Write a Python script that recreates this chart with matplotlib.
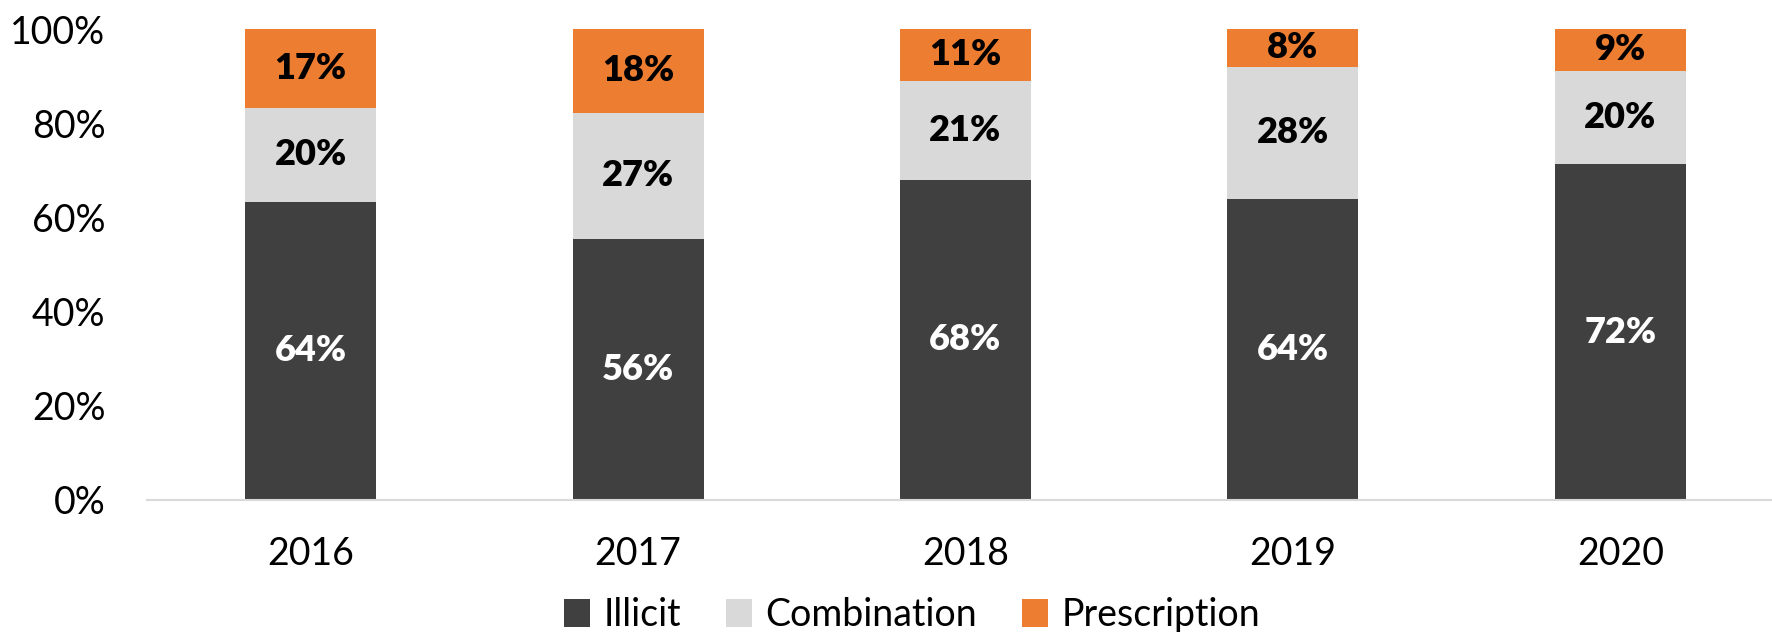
import matplotlib
matplotlib.use("Agg")
import matplotlib.pyplot as plt
import numpy as np

years = ["2016", "2017", "2018", "2019", "2020"]
illicit = [64, 56, 68, 64, 72]
combination = [20, 27, 21, 28, 20]
prescription = [17, 18, 11, 8, 9]

series_names = ["Illicit", "Combination", "Prescription"]
colors = ["#404040", "#D9D9D9", "#ED7D31"]
label_colors = ["white", "black", "black"]

plt.rcParams['font.family'] = ['Lato', 'DejaVu Sans']

fig = plt.figure(figsize=(17.72, 6.32), dpi=100)
ax = fig.add_axes([147/1772, 132/632, (1784-147)/1772, (500-29)/632])

data = np.array([illicit, combination, prescription], dtype=float)
totals = data.sum(axis=0)
shares = data / totals

x = np.arange(len(years))
bottom = np.zeros(len(years))
handles = []
for i, name in enumerate(series_names):
    h = ax.bar(x, shares[i], width=0.4, bottom=bottom, color=colors[i], label=name)
    handles.append(h)
    for xi, b, s, v in zip(x, bottom, shares[i], data[i]):
        ax.text(xi, b + s / 2, f"{int(v)}%", ha="center", va="center",
                fontsize=26, fontweight="heavy", color=label_colors[i])
    bottom += shares[i]

ax.set_xlim(-0.5, len(years) - 0.5)
ax.set_ylim(0, 1)
ax.set_yticks(np.linspace(0, 1, 6))
ax.set_yticklabels([f"{int(v*100)}%" for v in np.linspace(0, 1, 6)])
ax.set_xticks(x)
ax.set_xticklabels(years)
ax.tick_params(axis="both", length=0, labelsize=27)
ax.tick_params(axis="x", pad=26)
ax.tick_params(axis="y", pad=30)
for sp in ["top", "right", "left"]:
    ax.spines[sp].set_visible(False)
ax.spines["bottom"].set_color("#D9D9D9")
ax.spines["bottom"].set_linewidth(1.5)

fig.legend(handles=handles, labels=series_names, loc="center",
           bbox_to_anchor=(912/1772, 1 - 615/632), ncol=3, frameon=False,
           fontsize=27, handlelength=0.7, handleheight=0.8, handletextpad=0.35,
           columnspacing=1.2)

fig.savefig("out.png", dpi=100)
